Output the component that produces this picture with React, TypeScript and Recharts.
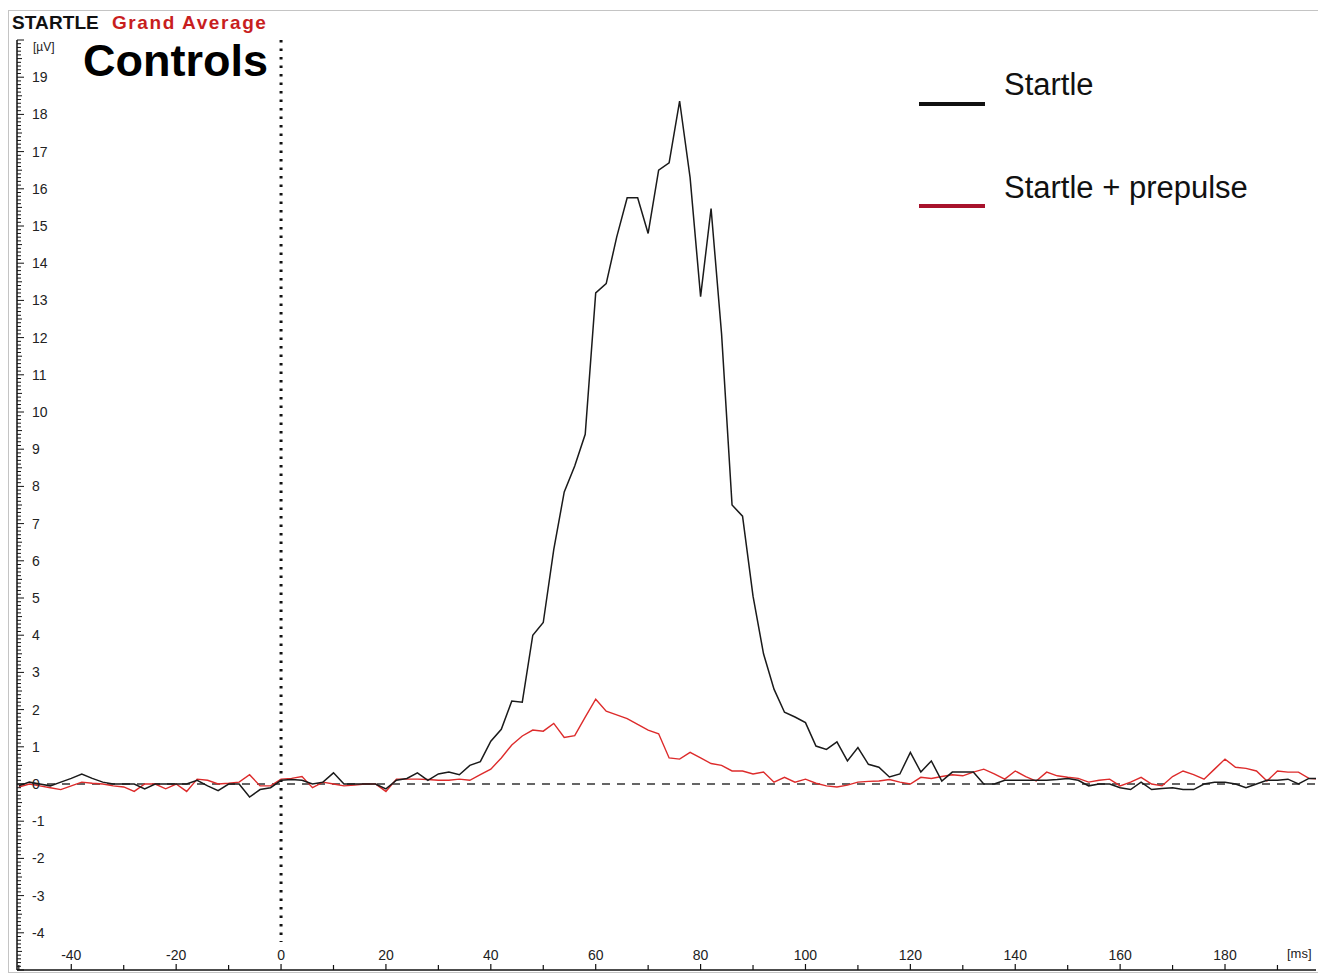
import React from 'react';
import { LineChart, Line, XAxis, YAxis, ReferenceLine } from 'recharts';

// time in ms (2 ms steps)
const TIME = [
  -50, -48, -46, -44, -42, -40, -38, -36, -34, -32,
  -30, -28, -26, -24, -22, -20, -18, -16, -14, -12,
  -10, -8, -6, -4, -2, 0, 2, 4, 6, 8,
  10, 12, 14, 16, 18, 20, 22, 24, 26, 28,
  30, 32, 34, 36, 38, 40, 42, 44, 46, 48,
  50, 52, 54, 56, 58, 60, 62, 64, 66, 68,
  70, 72, 74, 76, 78, 80, 82, 84, 86, 88,
  90, 92, 94, 96, 98, 100, 102, 104, 106, 108,
  110, 112, 114, 116, 118, 120, 122, 124, 126, 128,
  130, 132, 134, 136, 138, 140, 142, 144, 146, 148,
  150, 152, 154, 156, 158, 160, 162, 164, 166, 168,
  170, 172, 174, 176, 178, 180, 182, 184, 186, 188,
  190, 192, 194, 196, 198,
];

// Startle (µV)
const STARTLE = [
  -0.05, 0.05, 0.0, -0.05, 0.05, 0.15, 0.27, 0.15, 0.05, 0.0,
  0.0, 0.0, -0.13, 0.0, 0.0, 0.0, 0.0, 0.1, -0.05, -0.18,
  0.0, 0.0, -0.35, -0.15, -0.1, 0.1, 0.12, 0.1, 0.0, 0.05,
  0.3, 0.0, 0.0, 0.0, 0.0, -0.13, 0.1, 0.15, 0.3, 0.1,
  0.27, 0.32, 0.25, 0.5, 0.6, 1.15, 1.47, 2.23, 2.2, 4.0,
  4.34, 6.3, 7.85, 8.55, 9.4, 13.2, 13.45, 14.7, 15.76, 15.76,
  14.8, 16.5, 16.7, 18.36, 16.3, 13.1, 15.47, 12.1, 7.5, 7.2,
  5.05, 3.5, 2.55, 1.93, 1.8, 1.65, 1.02, 0.93, 1.13, 0.62,
  0.98, 0.53, 0.45, 0.19, 0.27, 0.85, 0.32, 0.62, 0.08, 0.32,
  0.32, 0.32, 0.0, 0.0, 0.1, 0.1, 0.1, 0.1, 0.1, 0.12,
  0.15, 0.1, -0.05, 0.0, 0.0, -0.1, -0.15, 0.05, -0.15, -0.12,
  -0.1, -0.15, -0.15, 0.0, 0.05, 0.05, 0.0, -0.1, 0.0, 0.1,
  0.1, 0.13, 0.0, 0.15, 0.15,
];

// Startle + prepulse (µV)
const PREPULSE = [
  -0.08, 0.0, -0.05, -0.1, -0.15, -0.05, 0.05, 0.02, 0.0, -0.05,
  -0.08, -0.2, 0.0, 0.0, -0.13, 0.0, -0.2, 0.13, 0.1, 0.0,
  0.02, 0.05, 0.25, -0.05, -0.05, 0.13, 0.15, 0.2, -0.1, 0.05,
  0.0, -0.05, -0.03, 0.0, 0.0, -0.2, 0.13, 0.13, 0.13, 0.12,
  0.1, 0.1, 0.13, 0.1, 0.25, 0.4, 0.7, 1.05, 1.29, 1.45,
  1.42, 1.63, 1.25, 1.3, 1.8, 2.28, 1.96, 1.86, 1.76, 1.6,
  1.45, 1.35, 0.7, 0.67, 0.85, 0.7, 0.55, 0.5, 0.35, 0.35,
  0.27, 0.32, 0.05, 0.18, 0.05, 0.13, 0.02, -0.05, -0.08, -0.03,
  0.05, 0.07, 0.08, 0.12, 0.05, 0.0, 0.18, 0.15, 0.2, 0.25,
  0.22, 0.32, 0.4, 0.27, 0.13, 0.35, 0.2, 0.08, 0.32, 0.22,
  0.18, 0.15, 0.05, 0.1, 0.13, -0.05, 0.05, 0.18, 0.0, -0.05,
  0.2, 0.35, 0.25, 0.13, 0.4, 0.67, 0.45, 0.42, 0.35, 0.08,
  0.35, 0.32, 0.32, 0.15, 0.13,
];

const X_TICKS = [-50, -40, -30, -20, -10, 0, 10, 20, 30, 40, 50, 60, 70, 80, 90, 100, 110, 120, 130, 140, 150, 160, 170, 180, 190];
const X_LABELS = [-40, -20, 0, 20, 40, 60, 80, 100, 120, 140, 160, 180];
const Y_LABELS = [-4, -3, -2, -1, 0, 1, 2, 3, 4, 5, 6, 7, 8, 9, 10, 11, 12, 13, 14, 15, 16, 17, 18, 19];

const SERIES_NAMES = ['Startle', 'Startle + prepulse'];
const LEGEND_COLORS = ['#111111', '#a8122c'];

const data = TIME.map((t, i) => ({ t, startle: STARTLE[i], prepulse: PREPULSE[i] }));

// minor y ruler ticks every 0.1 µV
const Y_TICKS: number[] = [];
for (let k = -50; k <= 200; k++) Y_TICKS.push(k / 10);

const FONT = 'Arial, "Liberation Sans", Helvetica, sans-serif';

const YTick = (props: any) => {
  const { x, y, payload } = props;
  const k = Math.round(payload.value * 10);
  const isInt = k % 10 === 0;
  const isHalf = k % 5 === 0;
  const len = isInt ? 7 : isHalf ? 5 : 4;
  const v = k / 10;
  const showLabel = isInt && Y_LABELS.includes(v);
  return (
    <g>
      <line x1={x} y1={y} x2={x + len} y2={y} stroke="#111" strokeWidth={1} />
      {showLabel && (
        <text x={x + 15} y={y} dy="0.36em" fontSize={14} fill="#222" fontFamily={FONT} textAnchor="start">
          {v}
        </text>
      )}
    </g>
  );
};

const XTick = (props: any) => {
  const { x, y, payload } = props;
  const v = payload.value;
  const labeled = X_LABELS.includes(v);
  return (
    <g>
      <line x1={x} y1={y} x2={x} y2={y - (labeled ? 6 : 5)} stroke="#111" strokeWidth={1.2} />
      {labeled && (
        <text x={x} y={y - 15} dy="0.36em" fontSize={14} fill="#222" fontFamily={FONT} textAnchor="middle">
          {v}
        </text>
      )}
    </g>
  );
};

export default function App() {
  return (
    <div style={{ position: 'absolute', left: 0, top: 0, width: 1318, height: 975, background: '#fff', overflow: 'hidden' }}>
      <div
        style={{
          position: 'absolute',
          left: 8,
          top: 10,
          width: 1320,
          height: 963,
          border: '1px solid #c4c4c4',
          boxSizing: 'border-box',
        }}
      />
      <div style={{ position: 'absolute', left: 0, top: 0 }}>
        <LineChart width={1318} height={975} data={data} margin={{ top: 40, right: 2, bottom: 5, left: 17 }}>
          <XAxis
            dataKey="t"
            type="number"
            domain={[-50.35, 197.35]}
            allowDataOverflow
            ticks={X_TICKS}
            interval={0}
            mirror
            tickSize={0}
            tickMargin={0}
            tickLine={false}
            tick={<XTick />}
            axisLine={{ stroke: '#111', strokeWidth: 1.5 }}
          />
          <YAxis
            type="number"
            domain={[-5, 20]}
            allowDataOverflow
            ticks={Y_TICKS}
            interval={0}
            mirror
            tickSize={0}
            tickMargin={0}
            tickLine={false}
            tick={<YTick />}
            axisLine={{ stroke: '#111', strokeWidth: 1.5 }}
          />
          <ReferenceLine y={0} stroke="#333" strokeWidth={1.6} strokeDasharray="8 7" />
          <ReferenceLine
            segment={[{ x: 0, y: 20 }, { x: 0, y: -4.25 }]}
            stroke="#111"
            strokeWidth={3}
            strokeDasharray="2.5 6"
          />
          <Line
            type="linear"
            dataKey="prepulse"
            name={SERIES_NAMES[1]}
            stroke="#dd2b2b"
            strokeWidth={1.4}
            dot={false}
            isAnimationActive={false}
          />
          <Line
            type="linear"
            dataKey="startle"
            name={SERIES_NAMES[0]}
            stroke="#1a1a1a"
            strokeWidth={1.5}
            dot={false}
            isAnimationActive={false}
          />
        </LineChart>
      </div>
      <svg width={400} height={170} style={{ position: 'absolute', left: 914, top: 60, overflow: 'visible' }}>
        {SERIES_NAMES.map((name, i) => (
          <g key={name}>
            <line x1={5} x2={71} y1={44 + i * 102} y2={44 + i * 102} stroke={LEGEND_COLORS[i]} strokeWidth={4} />
            <text x={90} y={35 + i * 103} fontSize={31} fill="#111" fontFamily={FONT}>
              {name}
            </text>
          </g>
        ))}
      </svg>
      <div style={{ position: 'absolute', left: 12, top: 12, fontFamily: FONT, fontWeight: 'bold', fontSize: 19, whiteSpace: 'nowrap' }}>
        <span style={{ color: '#111', letterSpacing: 0.1 }}>STARTLE</span>
        <span style={{ color: '#c81e1e', marginLeft: 13, letterSpacing: 1.6 }}>Grand Average</span>
      </div>
      <div style={{ position: 'absolute', left: 33, top: 40, fontFamily: FONT, fontSize: 12, color: '#222' }}>[µV]</div>
      <div style={{ position: 'absolute', left: 83, top: 35, fontFamily: FONT, fontWeight: 'bold', fontSize: 45, color: '#000' }}>Controls</div>
      <div style={{ position: 'absolute', left: 1287, top: 946, fontFamily: FONT, fontSize: 13, color: '#222' }}>[ms]</div>
    </div>
  );
}
